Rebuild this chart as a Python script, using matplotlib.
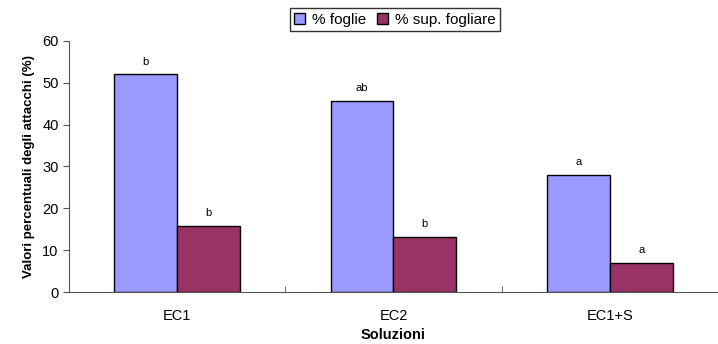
import matplotlib
matplotlib.use('Agg')
import matplotlib.pyplot as plt
import numpy as np

plt.rcParams['font.family'] = ['Liberation Sans', 'DejaVu Sans']

categorie = ['EC1', 'EC2', 'EC1+S']
foglie = [52.0, 45.7, 28.0]
sup_fogliare = [15.8, 13.2, 7.0]
lettere_foglie = ['b', 'ab', 'a']
lettere_sup = ['b', 'b', 'a']

fig = plt.figure(figsize=(7.18, 3.44), dpi=100)
ax = fig.add_axes([0.096, 0.151, 0.904, 0.730])

x = np.arange(len(categorie))
w = 0.29
b1 = ax.bar(x - w / 2, foglie, w, color='#9999FF', edgecolor='black', linewidth=1.0,
            label='% foglie')
b2 = ax.bar(x + w / 2, sup_fogliare, w, color='#993366', edgecolor='black', linewidth=1.0,
            label='% sup. fogliare')

for i in range(len(categorie)):
    ax.text(x[i] - w / 2, foglie[i] + 2.3, lettere_foglie[i], ha='center', va='baseline', fontsize=8)
    ax.text(x[i] + w / 2, sup_fogliare[i] + 2.3, lettere_sup[i], ha='center', va='baseline', fontsize=8)

ax.set_xlim(-0.5, 2.5)
ax.set_ylim(0, 60)
ax.set_yticks(range(0, 61, 10))
ax.set_xticks(x)
ax.set_xticklabels(categorie)
ax.set_xticks([0.5, 1.5], minor=True)
ax.tick_params(axis='x', which='major', length=0, labelsize=10.5, pad=12)
ax.tick_params(axis='x', which='minor', length=4, direction='in', color='#555555')
ax.tick_params(axis='y', length=4.5, labelsize=10.5, color='#555555', pad=3)
for s in ['top', 'right']:
    ax.spines[s].set_visible(False)
for s in ['left', 'bottom']:
    ax.spines[s].set_color('#555555')

ax.set_ylabel('Valori percentuali degli attacchi (%)', fontsize=9.5, fontweight='bold', labelpad=5)
ax.set_xlabel('Soluzioni', fontsize=10.5, fontweight='bold', labelpad=4)

leg = fig.legend(handles=[b1, b2], loc='upper center', bbox_to_anchor=(0.550, 0.976), ncol=2,
                 fontsize=11, frameon=True, fancybox=False, edgecolor='black',
                 handlelength=0.7, handleheight=0.7, handletextpad=0.45, columnspacing=0.7,
                 borderpad=0.3, borderaxespad=0)
leg.get_frame().set_linewidth(1.0)

fig.savefig('out.png', dpi=100)
